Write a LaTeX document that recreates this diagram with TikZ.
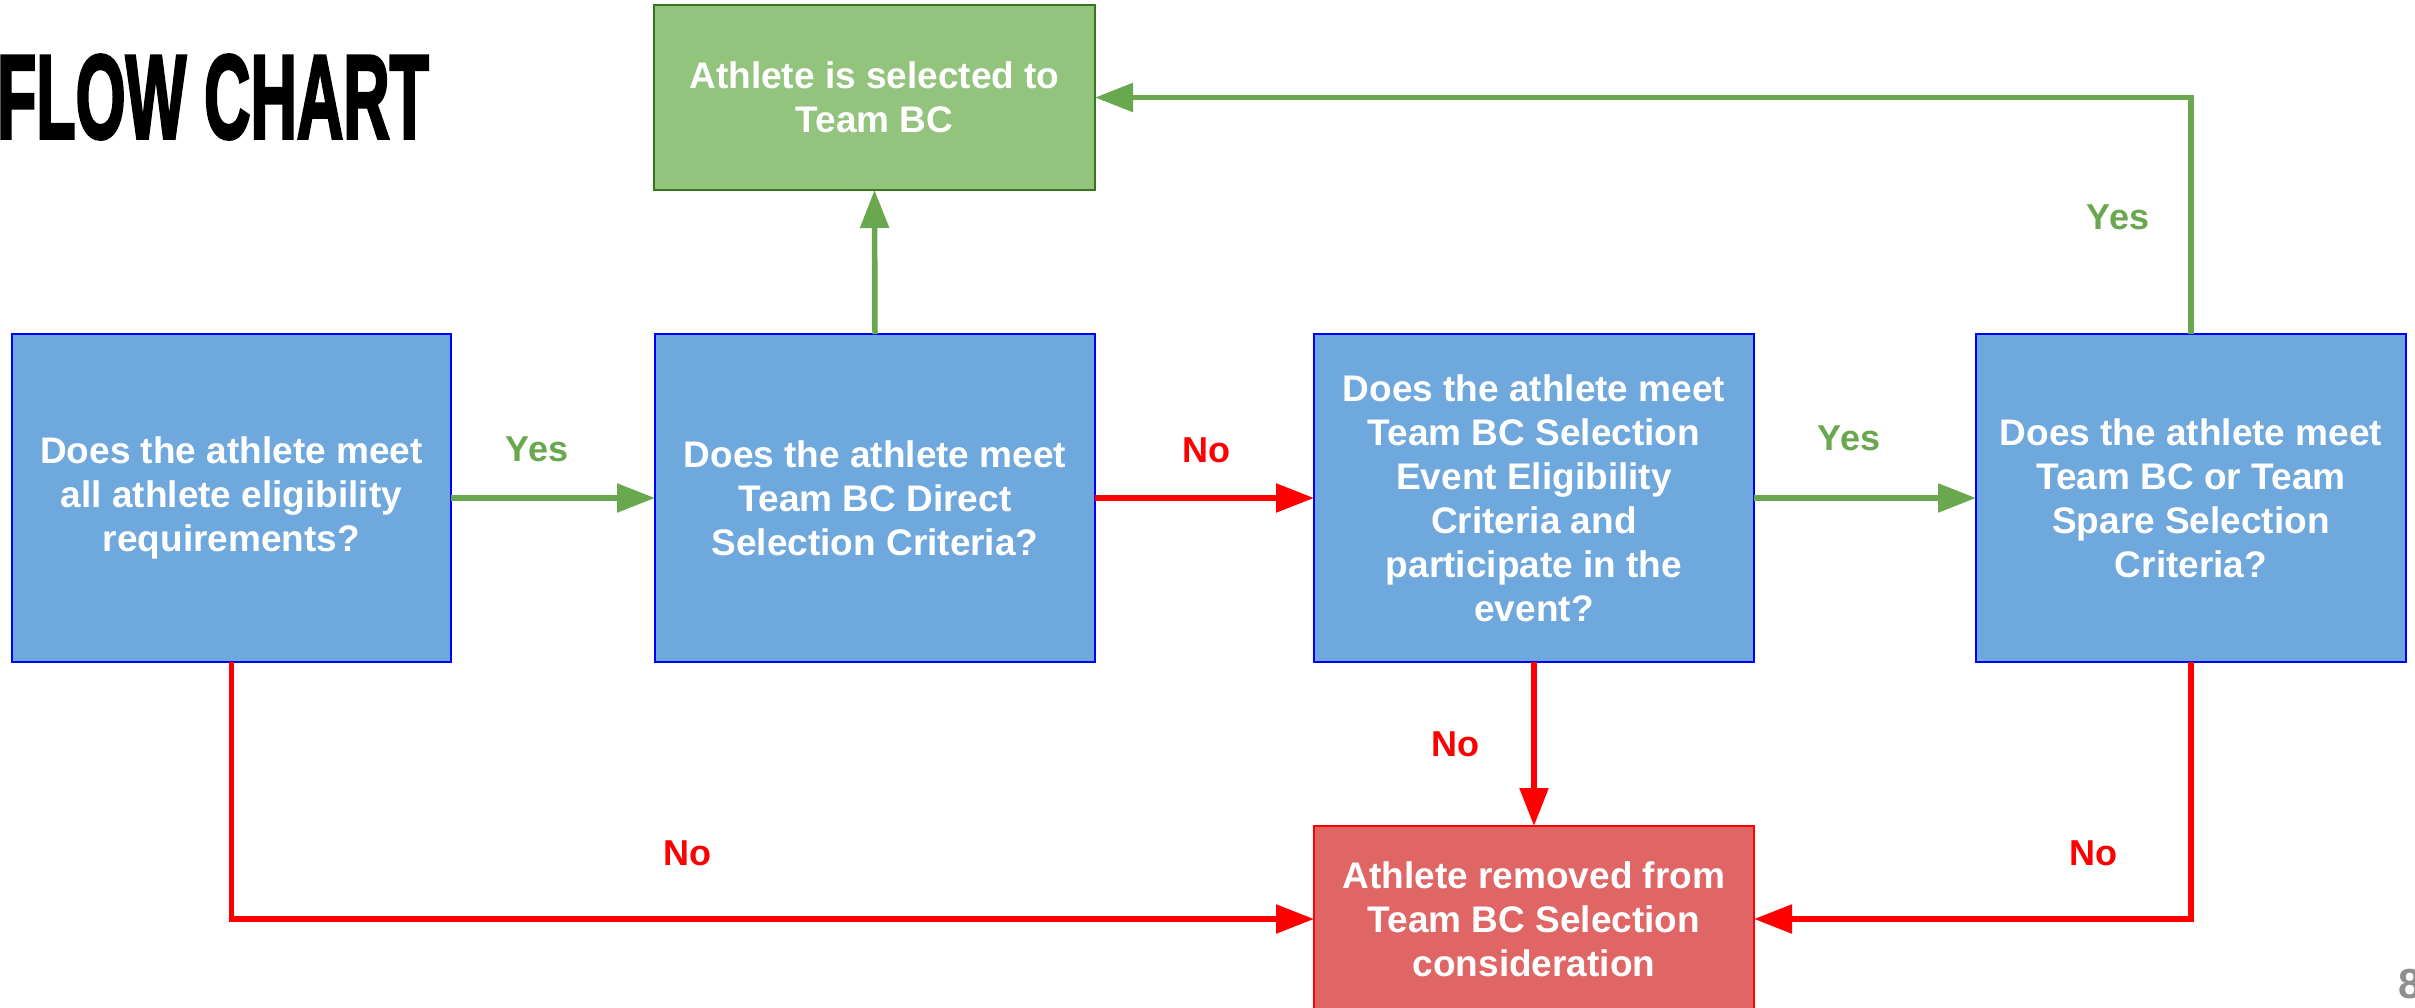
\documentclass[tikz,border=0pt]{standalone}
\usepackage{fontspec}
\setmainfont{Liberation Sans}
\newfontfamily\titlefont[FakeBold=3]{Liberation Sans Bold}
\usetikzlibrary{arrows.meta}
\definecolor{bfill}{HTML}{6FA8DC}
\definecolor{bdraw}{HTML}{0000FF}
\definecolor{gfill}{HTML}{93C47D}
\definecolor{gdraw}{HTML}{38761D}
\definecolor{rfill}{HTML}{E06666}
\definecolor{rdraw}{HTML}{FF0000}
\definecolor{gline}{HTML}{6AA84F}
\definecolor{rline}{HTML}{FF0000}
\definecolor{pgnum}{HTML}{8F8F8F}
\tikzset{
  box/.style={rectangle, inner sep=0pt, outer sep=0pt, line width=2pt, text=white,
    font=\fontsize{37}{44}\selectfont\bfseries, align=center},
  qbox/.style={box, fill=bfill, draw=bdraw, minimum height=328pt},
  gbox/.style={box, fill=gfill, draw=gdraw, minimum width=441pt, minimum height=185pt},
  rbox/.style={box, fill=rfill, draw=rdraw, minimum width=440pt, minimum height=186pt},
  garrow/.style={draw=gline, line width=5.5pt, -{Triangle[length=38pt,width=28pt]}},
  rarrow/.style={draw=rline, line width=5.5pt, -{Triangle[length=38pt,width=28pt]}},
  lbl/.style={inner sep=0pt, font=\fontsize{36}{40}\selectfont\bfseries},
  yes/.style={lbl, text=gline},
  no/.style={lbl, text=rline},
}
\begin{document}
\begin{tikzpicture}[x=1pt,y=-1pt]
\useasboundingbox (0,0) rectangle (2415,1007);

\node[anchor=base west, inner sep=0pt, xscale=0.54, font=\fontsize{119}{122}\titlefont] (title) at (-3,138) {FLOW CHART};

\node[qbox, minimum width=439pt] (A) at (231.5,498) {Does the athlete meet\\all athlete eligibility\\requirements?};
\node[qbox, minimum width=440pt] (B) at (875,498) {Does the athlete meet\\Team BC Direct\\Selection Criteria?};
\node[qbox, minimum width=440pt] (C) at (1534,498) {Does the athlete meet\\Team BC Selection\\Event Eligibility\\Criteria and\\participate in the\\event?};
\node[qbox, minimum width=430pt] (D) at (2191,498) {Does the athlete meet\\Team BC or Team\\Spare Selection\\Criteria?};
\node[gbox] (G) at (874.5,97.5) {Athlete is selected to\\Team BC};
\node[rbox] (R) at (1534,919) {Athlete removed from\\Team BC Selection\\consideration};

\draw[garrow] (A.east) -- (B.west);
\draw[rarrow] (B.east) -- (C.west);
\draw[garrow] (C.east) -- (D.west);
\draw[garrow] (B.north) -- (G.south);
\draw[garrow] (D.north) |- (G.east);
\draw[rarrow] (C.south) -- (R.north);
\draw[rarrow] (A.south) |- (R.west);
\draw[rarrow] (D.south) |- (R.east);

\node[yes] (y1) at (537,449) {Yes};
\node[no] (n1) at (1206,450) {No};
\node[yes] (y2) at (1849,438) {Yes};
\node[yes] (y3) at (2118,217) {Yes};
\node[no] (n2) at (1455,744) {No};
\node[no] (n3) at (687,853) {No};
\node[no] (n4) at (2093,853) {No};

\node[anchor=base west, inner sep=0pt, text=pgnum, font=\fontsize{42}{44}\selectfont\bfseries] (pg) at (2398,998) {8};
\end{tikzpicture}
\end{document}
